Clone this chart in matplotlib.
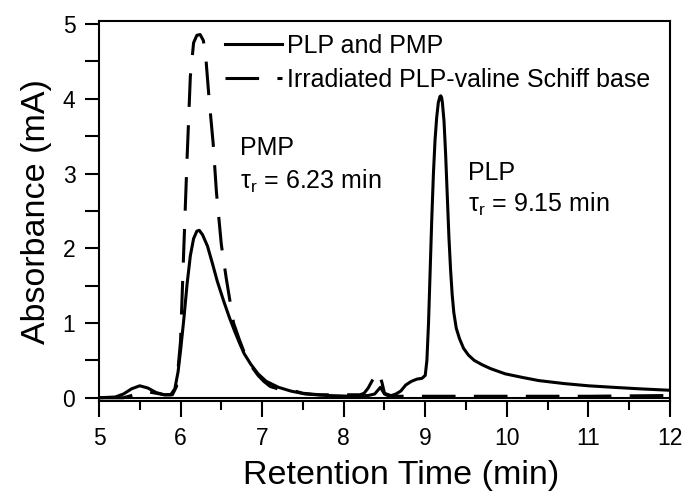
import numpy as np
import matplotlib
matplotlib.use("Agg")
import matplotlib.pyplot as plt
from matplotlib.ticker import MultipleLocator

plt.rcParams['font.family'] = ['Liberation Sans', 'DejaVu Sans']
plt.rcParams['mathtext.fontset'] = 'custom'
plt.rcParams['mathtext.rm'] = 'Liberation Sans'

# PLP and PMP standard (solid)
t_std = [5.0, 5.2, 5.3, 5.4, 5.5, 5.6, 5.7, 5.8, 5.88, 5.93, 5.97, 6.0, 6.04,
         6.08, 6.12, 6.16, 6.2, 6.23, 6.27, 6.33, 6.39, 6.45, 6.53, 6.6, 6.66,
         6.72, 6.78, 6.86, 6.95, 7.05, 7.2, 7.35, 7.53, 7.8, 8.1, 8.3, 8.38,
         8.45, 8.5, 8.56, 8.64, 8.7, 8.76, 8.83, 8.9, 8.96, 9.0, 9.02, 9.04,
         9.06, 9.08, 9.1, 9.12, 9.14, 9.16, 9.18, 9.19, 9.2, 9.21, 9.23, 9.25,
         9.27, 9.29, 9.31, 9.33, 9.35, 9.38, 9.42, 9.47, 9.53, 9.6, 9.7, 9.8,
         9.98, 10.2, 10.39, 10.7, 11.0, 11.3, 11.62, 12.0]
a_std = [0.0, 0.01, 0.05, 0.12, 0.16, 0.13, 0.07, 0.04, 0.04, 0.12, 0.35, 0.63,
         1.05, 1.52, 1.90, 2.13, 2.23, 2.24, 2.18, 2.03, 1.80, 1.56, 1.29, 1.07,
         0.90, 0.74, 0.59, 0.45, 0.32, 0.22, 0.14, 0.09, 0.05, 0.03, 0.02, 0.03,
         0.05, 0.14, 0.05, 0.02, 0.05, 0.09, 0.17, 0.22, 0.25, 0.26, 0.30, 0.5,
         1.0, 1.7, 2.4, 3.0, 3.45, 3.75, 3.95, 4.03, 4.04, 4.02, 3.95, 3.7,
         3.25, 2.7, 2.15, 1.72, 1.38, 1.14, 0.93, 0.79, 0.66, 0.57, 0.5, 0.44,
         0.39, 0.32, 0.27, 0.23, 0.19, 0.16, 0.14, 0.12, 0.10]

# irradiated PLP-valine Schiff base (dashed)
t_irr = [5.0, 5.3, 5.4, 5.5, 5.6, 5.7, 5.8, 5.9, 5.95, 6.0, 6.04, 6.08, 6.12,
         6.16, 6.2, 6.24, 6.28, 6.31, 6.35, 6.4, 6.44, 6.5, 6.56, 6.65, 6.72,
         6.8, 6.87, 6.95, 7.02, 7.1, 7.25, 7.4, 7.5, 7.7, 8.0, 8.2, 8.25, 8.3,
         8.35, 8.43, 8.47, 8.5, 8.6, 9.0, 10.0, 11.0, 12.0]
a_irr = [0.0, 0.0, 0.03, 0.06, 0.08, 0.06, 0.04, 0.04, 0.15, 0.76, 2.0, 3.2,
         4.3, 4.75, 4.85, 4.86, 4.78, 4.55, 4.0, 3.4, 2.75, 2.05, 1.6, 1.0,
         0.78, 0.55, 0.42, 0.3, 0.22, 0.15, 0.1, 0.09, 0.06, 0.04, 0.04, 0.04,
         0.06, 0.13, 0.23, 0.35, 0.2, 0.06, 0.02, 0.02, 0.02, 0.02, 0.03]

fig = plt.figure(figsize=(6.84, 4.91), dpi=100)
ax = fig.add_axes([0.1447, 0.1823, 0.8348, 0.7755])

ax.plot(t_std, a_std, color='black', lw=2.2, label='PLP and PMP')
ax.plot(t_irr, a_irr, color='black', lw=2.2, ls=(0, (11, 6)),
        label='Irradiated PLP-valine Schiff base')
ax.axhline(0, color='black', lw=1.5)

ax.set_xlim(5, 12)
ax.set_ylim(-0.05, 5.045)
ax.xaxis.set_major_locator(MultipleLocator(1))
ax.xaxis.set_minor_locator(MultipleLocator(0.5))
ax.yaxis.set_major_locator(MultipleLocator(1))
ax.yaxis.set_minor_locator(MultipleLocator(0.5))
ax.tick_params(axis='both', which='both', direction='out', width=1.5,
               labelsize=16.5, pad=7, top=False, right=False)
ax.tick_params(axis='x', which='major', length=11.5)
ax.tick_params(axis='x', which='minor', length=6.5)
ax.tick_params(axis='y', which='both', length=10)
for s in ax.spines.values():
    s.set_linewidth(1.5)

ax.set_xlabel('Retention Time (min)', fontsize=24.5, labelpad=7)
ax.xaxis.label.set_x(0.53)
ax.set_ylabel('Absorbance (mA)', fontsize=24.5, labelpad=8)

leg = ax.legend(loc='upper left', bbox_to_anchor=(0.2207, 0.966),
                frameon=False, fontsize=18, handlelength=2.3,
                handletextpad=0.2, labelspacing=0.42, borderpad=0,
                borderaxespad=0)

ax.text(6.73, 3.25, 'PMP', fontsize=18)
ax.text(6.73, 2.8, 'τ$_{\\rm r}$ = 6.23 min', fontsize=18)
ax.text(9.52, 2.91, 'PLP', fontsize=18)
ax.text(9.52, 2.49, 'τ$_{\\rm r}$ = 9.15 min', fontsize=18)

fig.savefig('out.png', dpi=100)
